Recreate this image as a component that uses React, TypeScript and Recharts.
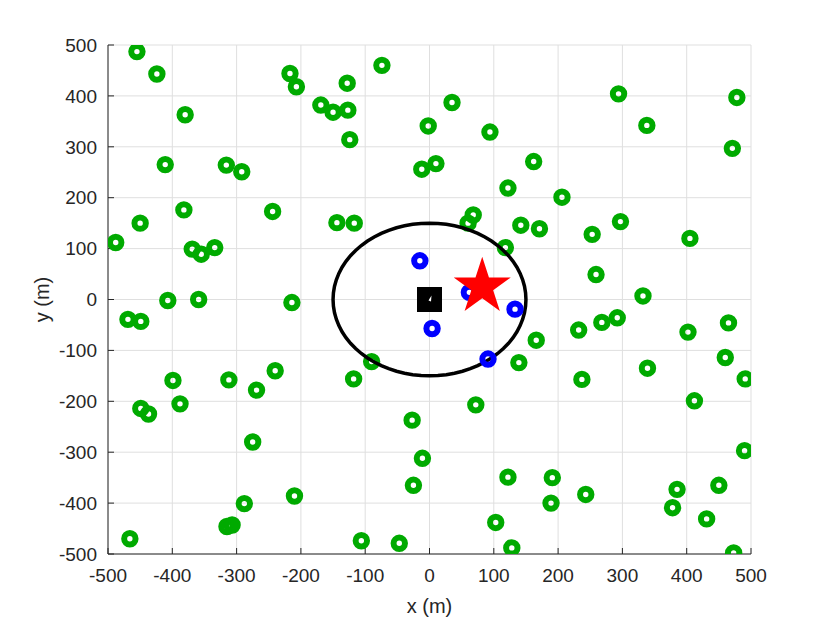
import { ScatterChart, Scatter, XAxis, YAxis, CartesianGrid } from 'recharts'

const axisTicks = [-500, -400, -300, -200, -100, 0, 100, 200, 300, 400, 500]

// green users
const userX = [
  -455, -424, -217, -207, -128, -74, -380, -169, -150, -127, -124, -2, -411, -316, -292, -12, -382, -244, -450, -144,
  -117, -488, -369, -355, -334, 35, 94, 10, 162, 122, 206, 294, 338, 478, 471, 68, 60, 142, 171, 253, 297, 405, 118,
  259, 332, 166, 139, 232, 268, 292, 237, 339, 402, 465, 460, 491, 412, 490, 72, 122, 191, 189, 243, 103, 128, 385,
  378, 450, 431, 473, -407, -359, -214, -469, -449, -90, -399, -312, -269, -240, -118, -449, -437, -388, -27, -275,
  -11, -25, -210, -288, -315, -307, -466, -106, -47,
]
const userY = [
  487, 443, 444, 418, 425, 460, 363, 382, 368, 372, 314, 341, 265, 264, 251, 256, 176, 173, 150, 151, 150, 112, 99,
  89, 102, 387, 329, 267, 271, 219, 201, 404, 342, 397, 297, 166, 150, 146, 139, 128, 153, 120, 102, 49, 7, -80, -124,
  -60, -45, -36, -157, -135, -64, -46, -114, -156, -199, -297, -207, -349, -350, -400, -383, -438, -488, -373, -409,
  -365, -431, -498, -2, 0, -6, -39, -43, -122, -159, -158, -178, -140, -156, -214, -225, -205, -237, -280, -312, -365,
  -386, -401, -446, -443, -470, -474, -479,
]

// blue users inside the cell
const nearX = [-15, 62, 4, 133, 91]
const nearY = [76, 14, -57, -19, -117]

const starX = [82]
const starY = [25]
const baseX = [0]
const baseY = [0]

const cellRadius = 150

const users = userX.map((x, i) => ({ x, y: userY[i] }))
const nearUsers = nearX.map((x, i) => ({ x, y: nearY[i] }))
const target = starX.map((x, i) => ({ x, y: starY[i] }))
const base = baseX.map((x, i) => ({ x, y: baseY[i] }))
const cell = Array.from({ length: 73 }, (_, i) => {
  const a = (i * 5 * Math.PI) / 180
  return { x: cellRadius * Math.cos(a), y: cellRadius * Math.sin(a) }
})

const textColor = '#262626'
const font = '"Liberation Sans", Arial, sans-serif'

const ring = (color: string) => (p: any) => (
  <circle cx={p.cx} cy={p.cy} r={5.7} fill="none" stroke={color} strokeWidth={6} />
)

const StarShape = (p: any) => {
  const R = 30
  const r = R * 0.382
  const pts: string[] = []
  for (let k = 0; k < 10; k++) {
    const rad = k % 2 === 0 ? R : r
    const a = -Math.PI / 2 + (k * Math.PI) / 5
    pts.push(`${p.cx + rad * Math.cos(a)},${p.cy + rad * Math.sin(a)}`)
  }
  return <polygon points={pts.join(' ')} fill="#ff0000" />
}

const SquareShape = (p: any) => (
  <g>
    <rect x={p.cx - 12.5} y={p.cy - 12.5} width={25} height={25} fill="#000" />
    <polygon points={`${p.cx - 1},${p.cy + 1} ${p.cx + 2},${p.cy - 4} ${p.cx + 1.5},${p.cy + 2}`} fill="#fff" />
  </g>
)

const XLabel = (p: any) => {
  const vb = p.viewBox
  return (
    <text x={vb.x + vb.width / 2} y={vb.y + 52} textAnchor="middle" dominantBaseline="central" fontSize={20} fill={textColor} fontFamily={font}>
      x (m)
    </text>
  )
}

const YLabel = (p: any) => {
  const vb = p.viewBox
  const cx = vb.x - 6
  const cy = vb.y + vb.height / 2
  return (
    <text x={cx} y={cy} transform={`rotate(-90, ${cx}, ${cy})`} textAnchor="middle" dominantBaseline="central" fontSize={20} fill={textColor} fontFamily={font}>
      y (m)
    </text>
  )
}

export default function App() {
  const tickStyle = { fontSize: 19, fill: textColor, fontFamily: font }
  return (
    <div style={{ position: 'absolute', left: 0, top: 0, background: '#fff' }}>
      <ScatterChart width={830} height={623} margin={{ top: 45, right: 79, bottom: 39, left: 48 }}>
        <CartesianGrid stroke="#dfdfdf" strokeWidth={1} />
        <XAxis
          type="number"
          dataKey="x"
          domain={[-500, 500]}
          ticks={axisTicks}
          allowDataOverflow
          tick={tickStyle}
          tickSize={-6}
          tickMargin={21}
          stroke={textColor}
          height={30}
          label={<XLabel />}
        />
        <YAxis
          type="number"
          dataKey="y"
          domain={[-500, 500]}
          ticks={axisTicks}
          allowDataOverflow
          tick={tickStyle}
          tickSize={-6}
          tickMargin={17}
          stroke={textColor}
          width={60}
          label={<YLabel />}
        />
        <XAxis
          xAxisId="top"
          orientation="top"
          type="number"
          dataKey="x"
          domain={[-500, 500]}
          ticks={axisTicks}
          tick={() => <g />}
          tickSize={-6}
          stroke={textColor}
          height={0}
        />
        <YAxis
          yAxisId="right"
          orientation="right"
          type="number"
          dataKey="y"
          domain={[-500, 500]}
          ticks={axisTicks}
          tick={() => <g />}
          tickSize={-6}
          stroke={textColor}
          width={0}
        />
        <Scatter data={users} shape={ring('#00aa00')} isAnimationActive={false} />
        <Scatter
          data={cell}
          line={{ stroke: '#000', strokeWidth: 3.5 }}
          lineType="joint"
          shape={() => <g />}
          isAnimationActive={false}
        />
        <Scatter data={nearUsers} shape={ring('#0000ff')} isAnimationActive={false} />
        <Scatter data={base} shape={SquareShape} isAnimationActive={false} />
        <Scatter data={target} shape={StarShape} isAnimationActive={false} />
      </ScatterChart>
    </div>
  )
}
